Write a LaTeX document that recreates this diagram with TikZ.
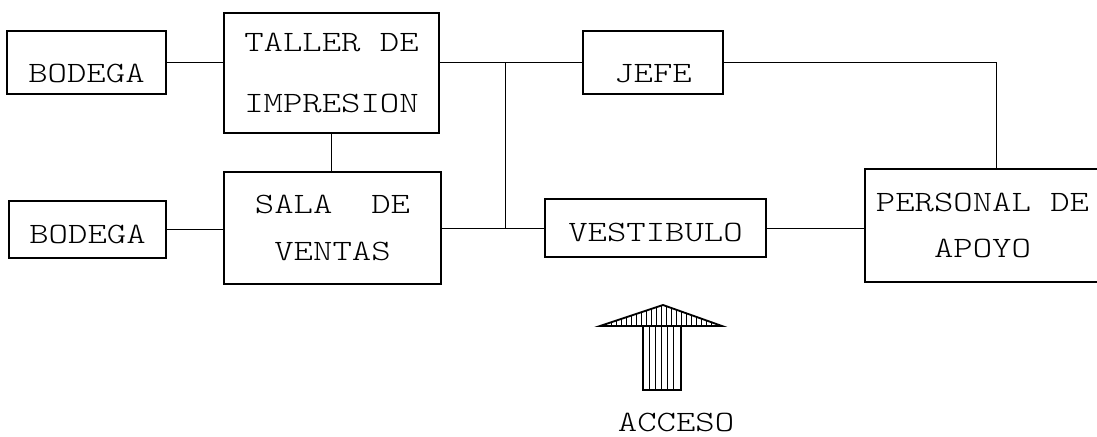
\documentclass[tikz,border=0pt]{standalone}
\usepackage{fontspec}
\setmainfont{lmmonolt10-regular.otf}[FakeStretch=1.25]
\begin{document}
\begin{tikzpicture}[
    x=0.025cm, y=-0.025cm,
    every node/.style={font=\fontsize{21}{33}\selectfont, align=center, inner sep=0pt},
    caja/.style={draw, line width=1.3pt},
    bajo/.style={text height=#1},
    linea/.style={line width=0.6pt},
    flecha/.style={draw, line width=1.3pt, fill=white},
    rayado/.style={line width=0.6pt}
  ]
  \clip (0,0) rectangle (1097,436);
  % Cajas de la planta (posiciones en pixeles del plano)
  \node[caja, minimum width=3.975cm, minimum height=1.575cm, bajo=28pt] (bod1) at (86.5,62.5) {BODEGA};
  \node[caja, minimum width=3.925cm, minimum height=1.425cm, bajo=20pt] (bod2) at (87.5,229.5) {BODEGA};
  \node[caja, minimum width=5.375cm, minimum height=3.0cm] (taller) at (331.5,73) {TALLER DE\\[11pt]IMPRESION};
  \node[caja, minimum width=5.425cm, minimum height=2.8cm] (sala) at (332.5,228) {SALA~~DE\\VENTAS};
  \node[caja, minimum width=3.5cm, minimum height=1.575cm, bajo=28pt] (jefe) at (653,62.5) {JEFE};
  \node[caja, minimum width=5.525cm, minimum height=1.45cm, bajo=20pt] (vest) at (655.5,228) {VESTIBULO};
  \node[caja, minimum width=5.875cm, minimum height=2.825cm] (pers) at (982.5,225.5) {PERSONAL DE\\APOYO};
  \node (acceso) at (676,422) {ACCESO};
  % Conexiones entre areas
  \coordinate (nudo) at (505,0);
  \draw[linea] (bod1) -- (bod1 -| taller.west);
  \draw[linea] (bod2) -- (bod2 -| sala.west);
  \draw[linea] (taller.south) -- (taller.south |- sala.north);
  \draw[linea] (jefe.west) -- (jefe.west -| taller.east);
  \draw[linea] (nudo |- jefe.west) -- (nudo |- sala.east);
  \draw[linea] (jefe.east) -| ([xshift=0.34cm]pers.north);
  \draw[linea] (sala) -- (vest);
  \draw[linea] (vest.east) -- (vest.east -| pers.west);
  % Flecha de acceso rayada
  \coordinate (punta) at (663,305);
  \draw[flecha] (643,326) rectangle (681,390);
  \foreach \x in {649,655,...,676} \draw[rayado] (\x,326) -- (\x,390);
  \draw[flecha] (600,326) -- (punta) -- (722,326) -- cycle;
  \begin{scope}
    \clip (600,326) -- (punta) -- (722,326) -- cycle;
    \foreach \x in {606,611,...,720} \draw[rayado] (\x,300) -- (\x,330);
  \end{scope}
\end{tikzpicture}
\end{document}
